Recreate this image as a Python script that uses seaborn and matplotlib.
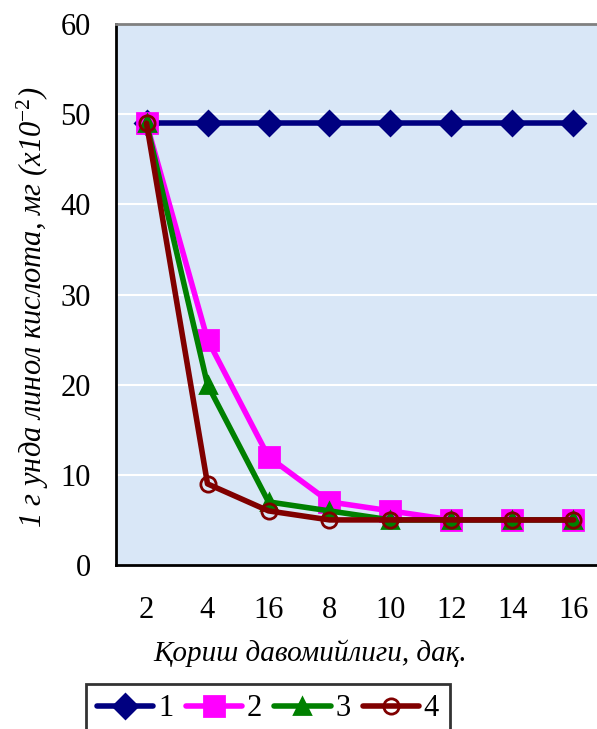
import matplotlib
matplotlib.use("Agg")
import matplotlib.pyplot as plt
import seaborn as sns
import pandas as pd
import numpy as np

categories = ["2", "4", "16", "8", "10", "12", "14", "16"]
series_names = ["1", "2", "3", "4"]
s1 = [49, 49, 49, 49, 49, 49, 49, 49]
s2 = [49, 25, 12, 7, 6, 5, 5, 5]
s3 = [49, 20, 7, 6, 5, 5, 5, 5]
s4 = [49, 9, 6, 5, 5, 5, 5, 5]
y_ticks = [0, 10, 20, 30, 40, 50, 60]

sns.set_theme(style="white")
plt.rcParams["font.family"] = ["Liberation Serif", "DejaVu Serif"]
plt.rcParams["mathtext.fontset"] = "custom"
plt.rcParams["mathtext.it"] = "Liberation Serif:italic"
plt.rcParams["mathtext.rm"] = "Liberation Serif"
plt.rcParams["mathtext.default"] = "it"
plt.rcParams["text.color"] = "black"
plt.rcParams["xtick.color"] = "black"
plt.rcParams["ytick.color"] = "black"
plt.rcParams["axes.labelcolor"] = "black"

rows = []
for name, vals in zip(series_names, [s1, s2, s3, s4]):
    for i, v in enumerate(vals):
        rows.append({"pos": i, "val": v, "series": name})
df = pd.DataFrame(rows)

fig = plt.figure(figsize=(5.97, 7.29), dpi=100)
ax = fig.add_axes([116/597, 1-565/729, 488/597, 541/729])
ax.set_facecolor("#d9e7f7")

colors = {"1": "#000080", "2": "#ff00ff", "3": "#008000", "4": "#800000"}
markers = {"1": "D", "2": "s", "3": "^", "4": "o"}
msizes = {"1": 12, "2": 14, "3": 11, "4": 11}

for name in series_names:
    sub = df[df["series"] == name]
    kw = dict(marker=markers[name], markersize=msizes[name], markeredgewidth=2,
              markerfacecolor=colors[name], markeredgecolor=colors[name])
    if name == "4":
        kw["markerfacecolor"] = "none"
    sns.lineplot(data=sub, x="pos", y="val", ax=ax, color=colors[name], lw=4,
                 label=name, zorder=3 + series_names.index(name), **kw)

ax.set_ylim(0, 60)
ax.set_xlim(-0.5, 7.5)
ax.set_yticks(y_ticks)
ax.set_yticklabels([str(t) for t in y_ticks], fontsize=22)
ax.yaxis.grid(True, color="white", lw=1.5)
ax.set_axisbelow(True)

ax.set_xticks(np.arange(-0.5, 8.0, 1.0))
ax.set_xticklabels([])
ax.set_xticks(np.arange(0, 8), minor=True)
ax.set_xticklabels(categories, minor=True, fontsize=22)
ax.tick_params(axis="x", which="major", direction="out", length=8, width=2, color="black")
ax.tick_params(axis="x", which="minor", length=0, pad=22)
ax.tick_params(axis="y", direction="out", length=8, width=2, color="black", pad=10)

for s in ["left", "bottom"]:
    ax.spines[s].set_color("black")
    ax.spines[s].set_linewidth(2)
ax.spines["top"].set_color("#808080")
ax.spines["top"].set_linewidth(2)
ax.spines["right"].set_visible(False)

ax.set_xlabel("Қориш давомийлиги, дақ.", fontsize=21, style="italic")
ax.xaxis.set_label_coords((310-116)/488, (565-653)/541)
ax.xaxis.label.set_va("center")
ax.set_ylabel("1 г унда линол кислота, мг (x10$^{-2}$)", fontsize=22, style="italic")
ax.yaxis.set_label_coords((33-116)/488, (565-307)/541)
ax.yaxis.label.set_va("center")

if ax.get_legend():
    ax.get_legend().remove()
handles, labels = ax.get_legend_handles_labels()
leg = fig.legend(handles, labels, loc="center", bbox_to_anchor=(268/597, 1-709/729),
                 ncol=4, fontsize=22, frameon=True, fancybox=False, handlelength=1.85,
                 handletextpad=0.15, columnspacing=0.4, borderpad=0.35)
leg.get_frame().set_edgecolor("black")
leg.get_frame().set_linewidth(2)
leg.get_frame().set_facecolor("white")

fig.savefig("out.png", dpi=100)
